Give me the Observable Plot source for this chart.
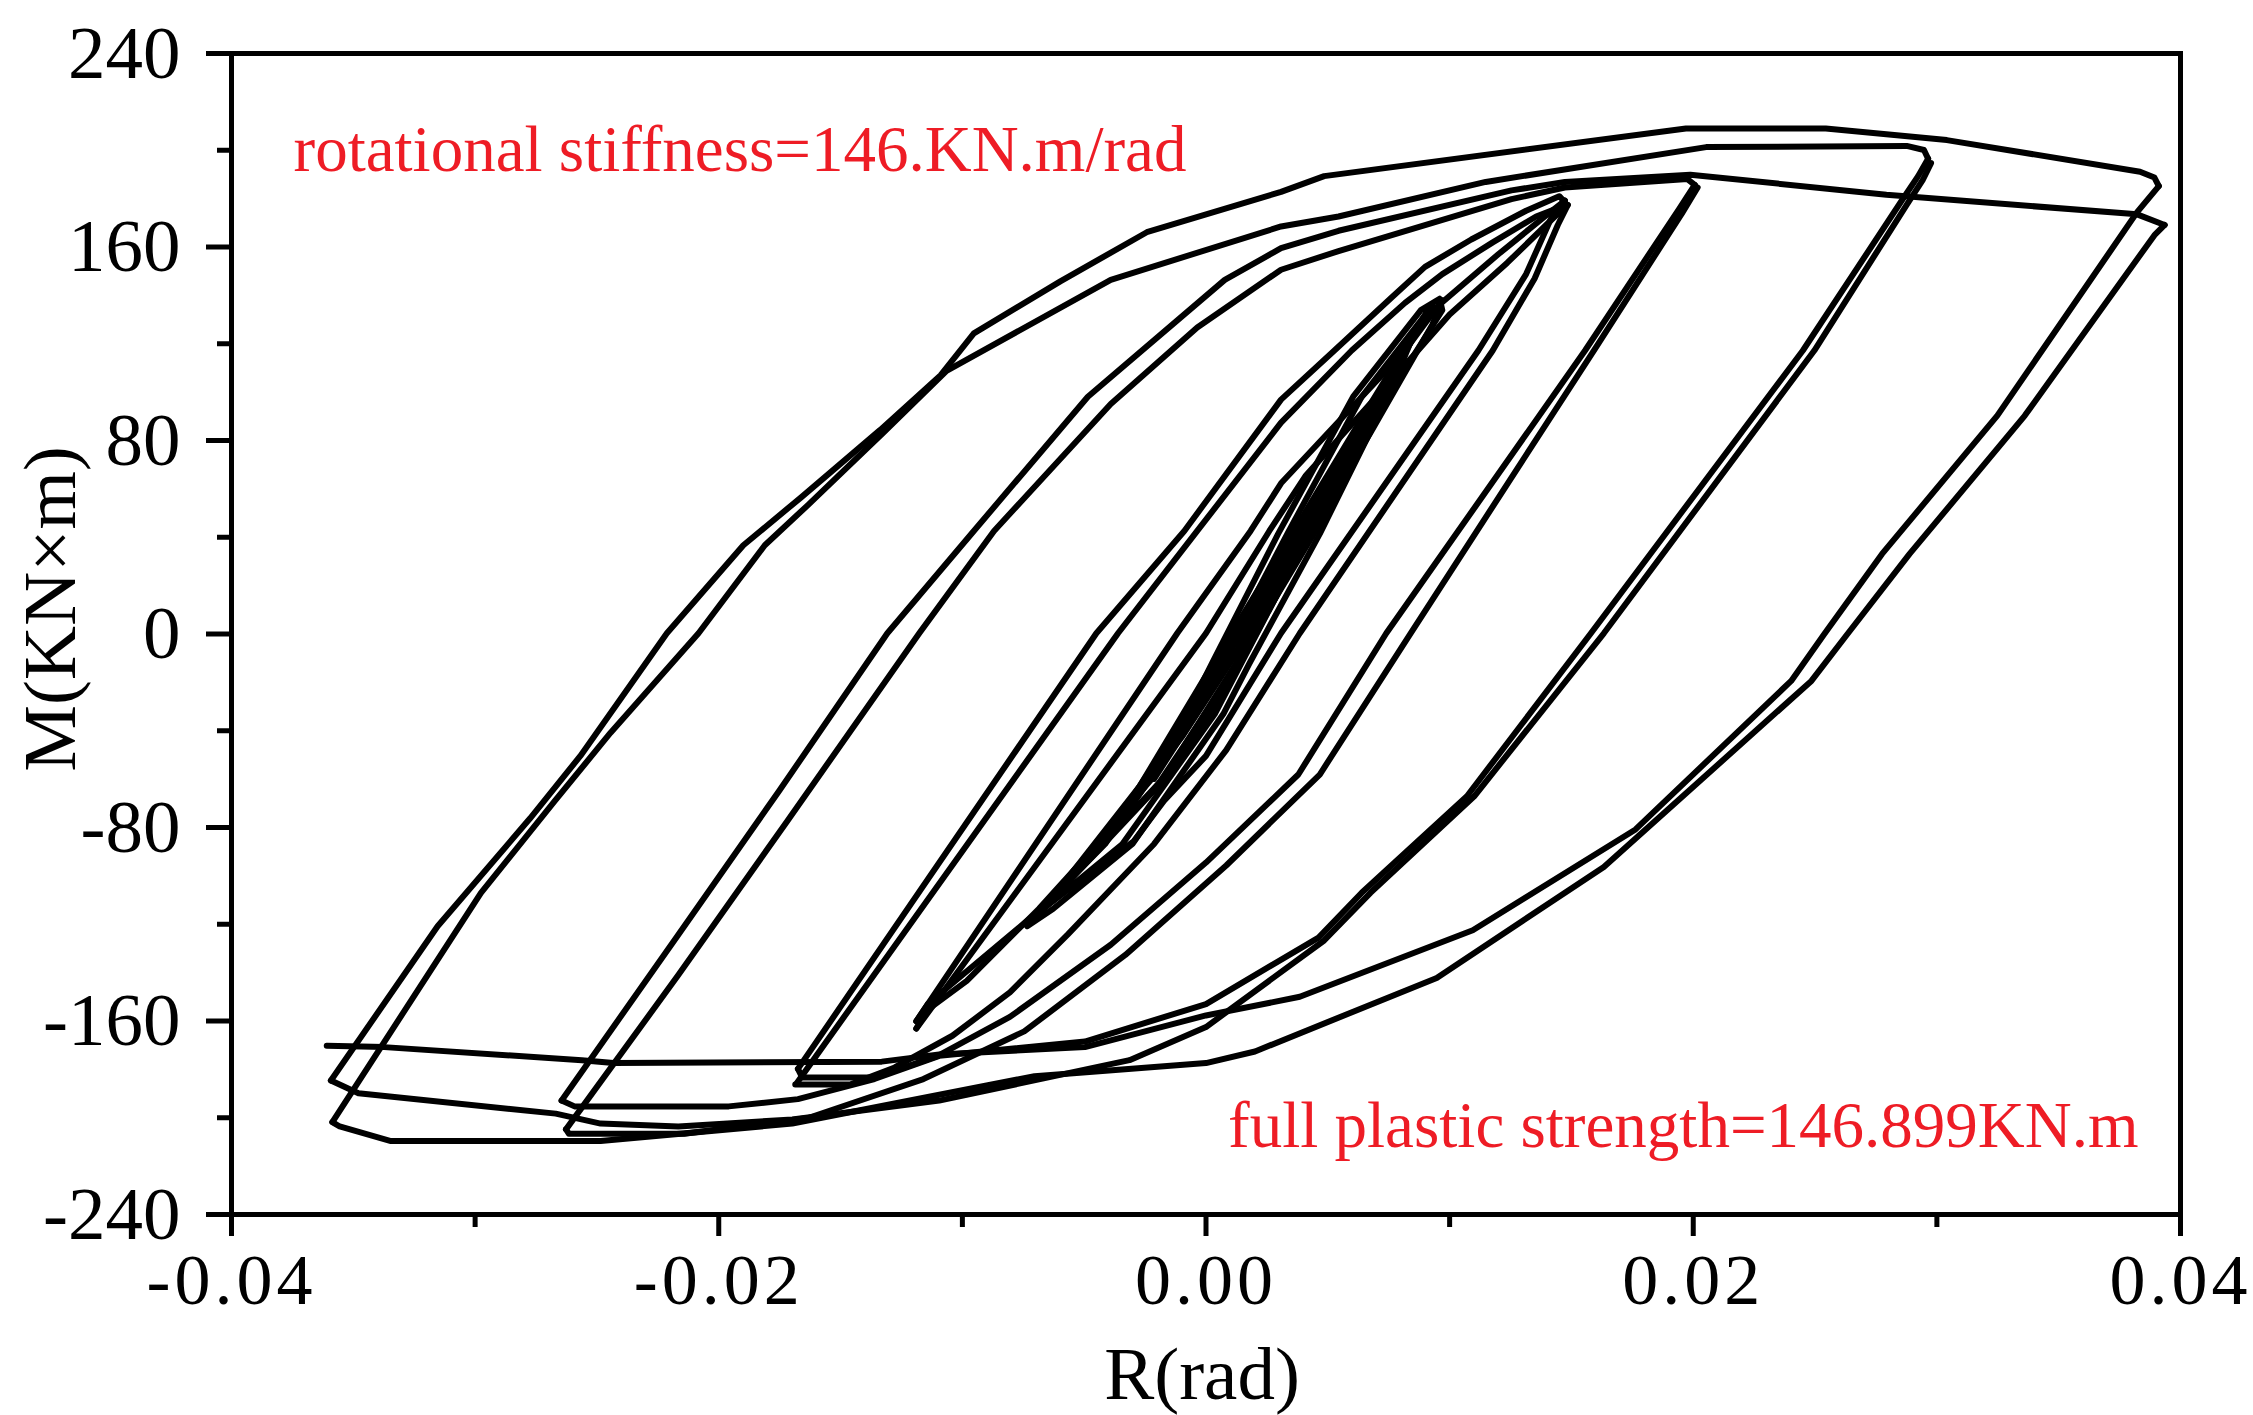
<!DOCTYPE html>
<html>
<head>
<meta charset="utf-8">
<script src="https://cdn.jsdelivr.net/npm/d3@7"></script>
<script src="https://cdn.jsdelivr.net/npm/@observablehq/plot@0.6"></script>
<style>
  html, body { margin: 0; padding: 0; background: #fff; overflow: hidden; }
  #chart svg { display: block; }
</style>
</head>
<body>
<div id="chart"></div>
<script>
// ---- axis ticks ----
const xTicks = [-0.04, -0.02, 0, 0.02, 0.04];
const xMinorTicks = [-0.03, -0.01, 0.01, 0.03];
const yTicks = [-240, -160, -80, 0, 80, 160, 240];
const yMinorTicks = [-200, -120, -40, 40, 120, 200];

// ---- hysteresis branches: [R (rad), M (kN*m)] ----
const outerUp1 = [[-0.03592,-184.6],[-0.03154,-120.8],[-0.02775,-76.3],[-0.02568,-50.4],[-0.02213,0.3],[-0.01899,36.7],[-0.01663,56.4],[-0.01337,84.4],[-0.01089,107.0],[-0.00953,124.3],[-0.00598,145.8],[-0.00243,166.1],[0.00308,182.8],[0.00485,189.3],[0.01970,209.0],[0.02544,209.0],[0.03041,204.2],[0.03834,191.1],[0.03893,188.7],[0.03911,185.2]];
const outerUp2 = [[-0.03586,-201.8],[-0.02976,-107.0],[-0.02672,-68.9],[-0.02444,-40.8],[-0.02083,0.3],[-0.01811,36.7],[-0.01633,53.4],[-0.01325,83.2],[-0.01065,108.8],[-0.00391,146.4],[0.00308,168.5],[0.00544,172.6],[0.01148,186.9],[0.02053,201.3],[0.02876,201.8],[0.02947,200.1],[0.02964,196.5]];
const outerDown1 = [[0.03911,185.2],[0.03822,174.4],[0.03248,90.3],[0.02775,33.1],[0.02538,0],[0.02402,-19.4],[0.01763,-80.8],[0.01095,-122.5],[0.00385,-150.0],[0,-157.7],[-0.00497,-170.8],[-0.01095,-173.8],[-0.01331,-176.8],[-0.02432,-177.4],[-0.02562,-176.2],[-0.03373,-170.8],[-0.03609,-170.2]];
const outerDown2 = [[0.03935,169.1],[0.03893,164.9],[0.03361,90.3],[0.02888,33.1],[0.02633,0],[0.02485,-19.4],[0.01633,-96.3],[0.00947,-142.2],[0.00201,-172.6],[0,-177.4],[-0.00704,-182.8],[-0.01698,-202.4],[-0.02485,-209.6],[-0.03349,-209.6],[-0.03556,-203.6],[-0.03586,-201.8]];
const up30a = [[-0.02645,-192.9],[-0.02166,-124.3],[-0.01751,-64.7],[-0.01308,0.3],[-0.00953,42.6],[-0.00485,98.1],[0.00077,146.4],[0.00308,159.5],[0.00544,166.7],[0.01254,183.4],[0.01473,186.9],[0.01988,189.9],[0.02793,181.6],[0.03822,173.5],[0.03935,169.1]];
const up30b = [[-0.02627,-204.8],[-0.02166,-141.0],[-0.01722,-77.8],[-0.01177,0.3],[-0.00870,42.6],[-0.00391,95.1],[-0.00036,126.7],[0.00308,150.6],[0.00544,158.3],[0.01254,179.8],[0.01473,184.6],[0.01976,188.1],[0.02006,185.7]];
const down30a = [[0.02964,196.5],[0.02923,189.3],[0.02852,178.6],[0.02450,117.2],[0.01580,0.3],[0.01071,-67.1],[0.00639,-107.0],[0.00462,-125.5],[0,-153.0],[-0.00497,-168.5],[-0.01095,-174.4],[-0.01361,-184.0],[-0.01675,-192.3],[-0.01959,-195.3],[-0.02592,-195.3],[-0.02645,-192.9]];
const down30b = [[0.02976,194.7],[0.02941,187.5],[0.02876,177.4],[0.02497,117.2],[0.01633,0.3],[0.01101,-67.1],[0.00675,-107.0],[0.00485,-126.7],[0,-162.5],[-0.00314,-176.2],[-0.01095,-192.9],[-0.01698,-200.7],[-0.02166,-203.6],[-0.02485,-202.4],[-0.02669,-198.3],[-0.03479,-189.9],[-0.03592,-184.6]];
const up20a = [[-0.01675,-179.8],[-0.00450,0.3],[-0.00089,42.6],[0.00308,96.9],[0.00527,117.2],[0.00763,139.2],[0.00899,151.8],[0.01089,163.1],[0.01314,175.0],[0.01450,181.0],[0.01473,178.6]];
const up20b = [[-0.01680,-185.7],[-0.00361,0.3],[-0.00036,42.6],[0.00308,87.4],[0.00598,117.2],[0.00817,136.9],[0.00970,148.8],[0.01177,161.9],[0.01355,172.6],[0.01479,177.4]];
const down20a = [[0.02006,185.7],[0.01941,175.6],[0.01556,117.2],[0.00740,0.3],[0.00379,-58.1],[0,-94.5],[-0.00391,-128.5],[-0.00805,-158.3],[-0.01101,-174.4],[-0.01361,-183.4],[-0.01657,-183.4],[-0.01675,-179.8]];
const down20b = [[0.02018,184.6],[0.01953,173.8],[0.01592,117.2],[0.00840,0.3],[0.00467,-58.1],[0.00083,-95.7],[-0.00331,-132.7],[-0.00746,-164.3],[-0.01160,-184.0],[-0.01633,-200.1],[-0.02142,-206.6],[-0.02379,-206.6],[-0.02615,-206.6],[-0.02627,-204.8]];
const up15a = [[-0.01189,-160.1],[-0.00118,0.3],[0.00183,42.6],[0.00308,62.3],[0.00817,117.2],[0.00953,135.7],[0.01201,157.1],[0.01420,175.0],[0.01473,179.2]];
const up15b = [[-0.01189,-163.1],[0,0.3],[0.00260,42.6],[0.00408,65.3],[0.00870,117.2],[0.01000,132.1],[0.01237,153.5],[0.01432,172.6],[0.01485,177.4]];
const down15a = [[0.01473,179.2],[0.01420,172.6],[0.01314,148.8],[0.01118,117.2],[0.00308,0.3],[0,-50.4],[-0.00172,-68.9],[-0.00296,-85.6],[-0.00704,-116.0],[-0.01142,-153.0],[-0.01189,-160.1]];
const down15b = [[0.01485,177.4],[0.01444,169.1],[0.01349,147.0],[0.01177,117.2],[0.00385,0.3],[0.00083,-48.0],[-0.00213,-86.8],[-0.00568,-124.3],[-0.00805,-148.2],[-0.01041,-166.1],[-0.01278,-179.2],[-0.01461,-186.3],[-0.01686,-186.3]];
const inner10a = [[-0.00734,-120.8],[-0.00450,-89.7],[-0.00095,-36.1],[0.00024,-12.2],[0.00296,41.4],[0.00604,98.1],[0.00882,133.9],[0.00959,138.6],[0.00970,133.9],[0.00746,98.1],[0.00467,41.4],[0.00178,-12.2],[0.00071,-33.1],[-0.00302,-86.8],[-0.00627,-113.6],[-0.00734,-120.8]];
const inner10b = [[-0.00710,-117.2],[-0.00414,-86.8],[-0.00059,-34.3],[0.00337,42.0],[0.00639,98.1],[0.00929,135.7],[0.00710,98.1],[0.00426,42.0],[0.00036,-33.1],[-0.00343,-86.8],[-0.00710,-117.2]];
const inner09 = [[-0.00657,-112.4],[-0.00272,-62.9],[-0.00006,-18.2],[0.00361,42.6],[0.00675,95.1],[0.00911,133.9],[0.00692,93.3],[0.00408,42.6],[0.00095,-18.2],[-0.00213,-64.7],[-0.00657,-112.4]];
const inner085 = [[-0.00598,-104.7],[-0.00213,-58.7],[0.00041,-17.0],[0.00391,42.6],[0.00704,93.3],[0.00870,127.9],[0.00734,95.1],[0.00432,42.6],[0.00124,-15.2],[-0.00142,-56.9],[-0.00598,-104.7]];
const inner075 = [[-0.00538,-98.7],[-0.00213,-56.9],[0.00083,-6.3],[0.00379,42.6],[0.00805,114.2],[0.00734,98.1],[0.00450,42.6],[0.00142,-9.2],[-0.00166,-58.7],[-0.00538,-98.7]];
const inner05 = [[-0.00343,-76.6],[0.00053,-12.2],[0.00663,86.2],[0.00142,-5.1],[-0.00343,-76.6]];
const inner0375 = [[-0.00213,-59.9],[0.00083,-9.2],[0.00527,62.3],[0.00130,-6.3],[-0.00213,-59.9]];
const innerDown = [[0.00970,138.0],[0.00929,127.9],[0.00675,83.2],[0.00320,23.6],[0.00178,0.3],[-0.00095,-42.0],[-0.00391,-80.8],[-0.00686,-113.6],[-0.00982,-143.4],[-0.01142,-155.3],[-0.01189,-163.1]];

const noteStiffness = "rotational stiffness=146.KN.m/rad";
const noteStrength = "full plastic strength=146.899KN.m";
const xTitle = "R(rad)";
const yTitle = "M(KN\u00d7m)";

const branches = {outerUp1, outerUp2, outerDown1, outerDown2, up30a, up30b, down30a, down30b,
  up20a, up20b, down20a, down20b, up15a, up15b, down15a, down15b,
  inner10a, inner10b, inner09, inner085, inner075, inner05, inner0375, innerDown};
const rows = [];
for (const [name, pts] of Object.entries(branches)) {
  pts.forEach(([r, m], i) => rows.push({branch: name, i, r, m}));
}

const font = "'Liberation Serif', 'Times New Roman', serif";
const chart = Plot.plot({
  width: 2253,
  height: 1415,
  marginLeft: 231,
  marginRight: 73,
  marginTop: 53,
  marginBottom: 201,
  style: {fontFamily: font, background: "#fff", color: "#000"},
  x: {domain: [-0.04, 0.04]},
  y: {domain: [-240, 240]},
  marks: [
    Plot.line(rows, {x: "r", y: "m", z: "branch", stroke: "#000", strokeWidth: 6, strokeLinejoin: "round", strokeLinecap: "round"}),
    Plot.frame({stroke: "#000", strokeWidth: 5}),
    Plot.axisY(yTicks, {tickSize: 25, tickPadding: 26, fontSize: 75, strokeWidth: 5, tickFormat: d => String(d), label: null}),
    Plot.axisY(yMinorTicks, {tickSize: 14, strokeWidth: 5, tickFormat: () => "", label: null}),
    Plot.axisX(xTicks, {tickSize: 22, tickPadding: 16, fontSize: 72, strokeWidth: 5, tickFormat: d => d.toFixed(2), label: null}),
    Plot.axisX(xMinorTicks, {tickSize: 13, strokeWidth: 5, tickFormat: () => "", label: null}),
    Plot.text([noteStiffness], {text: d => d, frameAnchor: "top-left", dx: 62, dy: 117, textAnchor: "start", lineAnchor: "bottom", fill: "#ee1c25", fontSize: 65}),
    Plot.text([noteStrength], {text: d => d, frameAnchor: "bottom-right", dx: -42, dy: -68, textAnchor: "end", lineAnchor: "bottom", fill: "#ee1c25", fontSize: 65}),
    Plot.text([xTitle], {text: d => d, frameAnchor: "bottom", dx: -4, dy: 184, textAnchor: "middle", lineAnchor: "bottom", fontSize: 75, fill: "#000"}),
    Plot.text([yTitle], {text: d => d, frameAnchor: "left", dx: -157, dy: -25, rotate: -90, textAnchor: "middle", lineAnchor: "bottom", fontSize: 75, fill: "#000"})
  ]
});
document.getElementById("chart").appendChild(chart);
d3.select(chart).selectAll('g[aria-label="x-axis tick label"] text').style("letter-spacing", "4px");
</script>
</body>
</html>
